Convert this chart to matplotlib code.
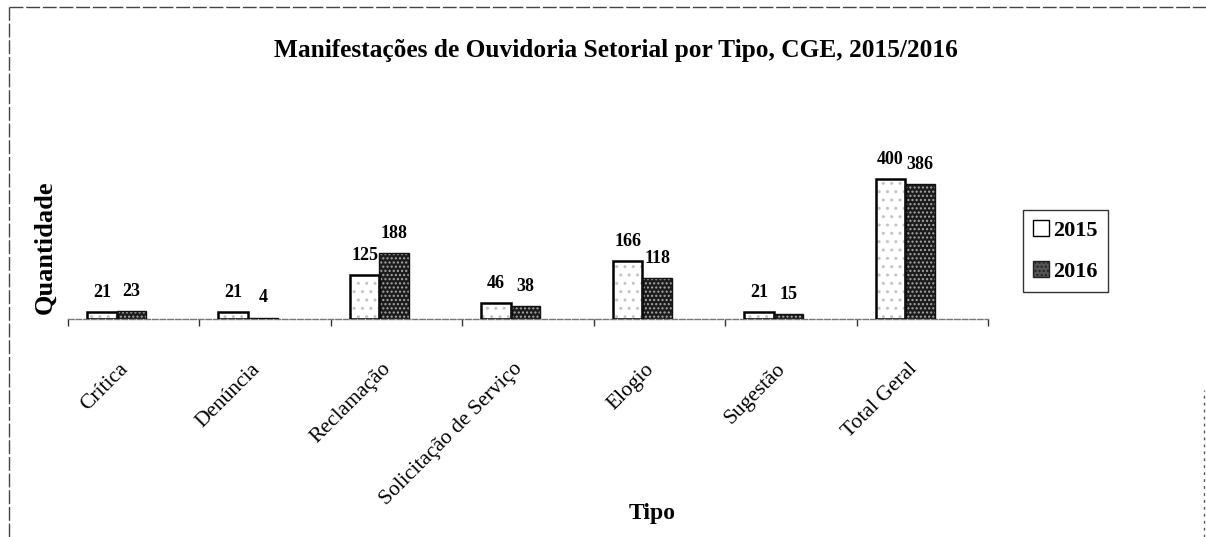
import matplotlib
matplotlib.use("Agg")
import matplotlib.pyplot as plt
from matplotlib.patches import Patch
from matplotlib.lines import Line2D
import numpy as np

categories = ["Crítica", "Denúncia", "Reclamação", "Solicitação de Serviço",
              "Elogio", "Sugestão", "Total Geral"]
values_2015 = [21, 21, 125, 46, 166, 21, 400]
values_2016 = [23, 4, 188, 38, 118, 15, 386]
series_names = ["2015", "2016"]

W, H = 1206, 537
fig = plt.figure(figsize=(W / 100, H / 100), dpi=100)
fig.patch.set_facecolor("white")
serif = ["Liberation Serif", "DejaVu Serif"]

ax = fig.add_axes([68 / W, 1 - 319 / H, (988 - 68) / W, (319 - 151) / H])
ax.set_xlim(-0.5, len(categories) - 0.5)
ax.set_ylim(0, 480)

x = np.arange(len(categories))
shift = -0.13
bw = 0.225
pos15 = x + shift - bw / 2
pos16 = x + shift + bw / 2

c15_face, c15_hatch = "#ffffff", "#c4c4c4"
c16_face, c16_hatch = "#1c1c1c", "#a8a8a8"

ax.bar(pos15, values_2015, bw, color=c15_face, edgecolor="none", zorder=2)
ax.bar(pos15, values_2015, bw, color="none", edgecolor=c15_hatch, hatch="..", linewidth=0, zorder=3)
ax.bar(pos15, values_2015, bw, color="none", edgecolor="black", linewidth=1.8, zorder=4)
ax.bar(pos16, values_2016, bw, color=c16_face, edgecolor="none", zorder=2)
ax.bar(pos16, values_2016, bw, color="none", edgecolor=c16_hatch, hatch="....", linewidth=0, zorder=3)
ax.bar(pos16, values_2016, bw, color="none", edgecolor="#111111", linewidth=1.0, zorder=4)

for xs, vals in ((pos15, values_2015), (pos16, values_2016)):
    for xi, v in zip(xs, vals):
        ax.annotate(str(v), (xi, v), xytext=(0, 8), textcoords="offset points",
                    ha="center", va="bottom", fontsize=13, fontweight="bold",
                    family=serif)

for s in ("top", "right", "left"):
    ax.spines[s].set_visible(False)
ax.spines["bottom"].set_color("#777777")
ax.spines["bottom"].set_linestyle((0, (4, 1.5)))
ax.spines["bottom"].set_linewidth(1.0)
ax.set_yticks([])

ax.set_xticks(x - 0.06)
ax.set_xticklabels(categories, rotation=45, ha="right", va="center",
                   rotation_mode="anchor", fontsize=15.5, family=serif)
ax.tick_params(axis="x", length=0, pad=34)
ax.set_xticks(np.arange(len(categories) + 1) - 0.5, minor=True)
ax.tick_params(axis="x", which="minor", length=5, width=1, color="#333333")

fig.text(652 / W, 1 - 514 / H, "Tipo", ha="center", va="center",
         fontsize=17, fontweight="bold", family=serif)
fig.text(45 / W, 1 - 247 / H, "Quantidade", ha="center", va="center",
         rotation=90, fontsize=19, fontweight="bold", family=serif)

fig.text(0.5 * (272 + 960) / W, 1 - 50 / H,
         "Manifestações de Ouvidoria Setorial por Tipo, CGE, 2015/2016",
         ha="center", va="center", fontsize=18.3, fontweight="bold", family=serif)

handles = [
    Patch(facecolor=c15_face, edgecolor="black", label=series_names[0]),
    Patch(facecolor="#555555", edgecolor="#222222", hatch="....", label=series_names[1]),
]
leg = fig.legend(handles=handles, loc="center left",
                 bbox_to_anchor=(1023 / W, 1 - 251 / H),
                 prop={"family": serif, "size": 16, "weight": "bold"},
                 frameon=True, fancybox=False, edgecolor="black",
                 handlelength=0.7, handleheight=0.7, handletextpad=0.2,
                 borderpad=0.45, labelspacing=0.9, borderaxespad=0)
leg.get_frame().set_linewidth(1.0)

border = dict(transform=fig.transFigure, color="#444444", linewidth=1.0,
              linestyle=(0, (10, 2)))
fig.add_artist(Line2D([9 / W, 1], [1 - 7 / H, 1 - 7 / H], **border))
fig.add_artist(Line2D([9 / W, 9 / W], [0, 1 - 7 / H], **border))
fig.add_artist(Line2D([1204 / W, 1204 / W], [0, 1 - 390 / H],
                      transform=fig.transFigure, color="#555555",
                      linewidth=1.0, linestyle=(0, (2, 3))))

fig.savefig("out.png", dpi=100, facecolor="white")
